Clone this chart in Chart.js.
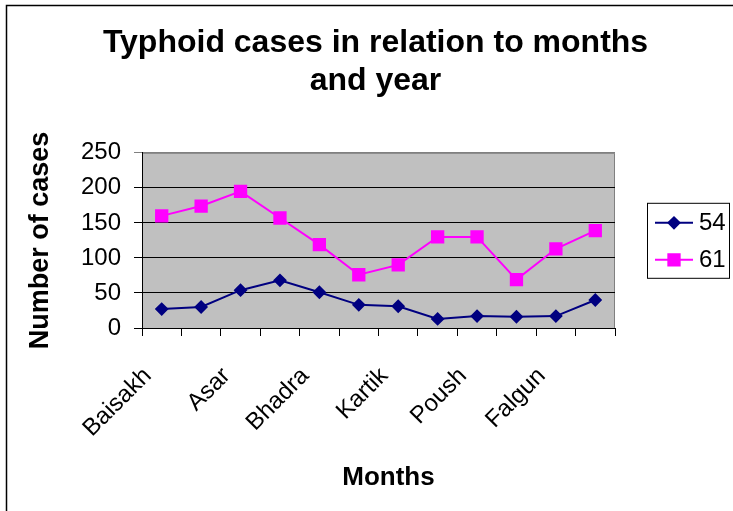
<!DOCTYPE html>
<html>
<head>
<meta charset="utf-8">
<script src="https://cdn.jsdelivr.net/npm/chart.js@4.4.1/dist/chart.umd.min.js"></script>
<style>
  html, body { margin: 0; padding: 0; background: #ffffff; }
  #wrap { width: 733px; height: 511px; position: relative; }
  canvas { display: block; }
</style>
</head>
<body>
<div id="wrap"><canvas id="c" width="733" height="511"></canvas></div>
<script>
// ---- data ----
const months = ['Baisakh', 'Jestha', 'Asar', 'Shrawan', 'Bhadra', 'Ashwin',
                'Kartik', 'Mangsir', 'Poush', 'Magh', 'Falgun', 'Chaitra'];
const series54 = [27, 30, 54, 68, 51, 33, 31, 13, 17, 16, 17, 40];
const series61 = [160, 174, 195, 157, 119, 76, 90, 130, 130, 69, 113, 139];
const seriesNames = ['54', '61'];
const yTicks = [0, 50, 100, 150, 200, 250];
const chartTitle = ['Typhoid cases in relation to months', 'and year'];
const xTitle = 'Months';
const yTitle = 'Number of cases';

const FONT = "'Liberation Sans', Arial, Helvetica, sans-serif";

const decor = {
  id: 'decor',
  beforeDraw(chart) {
    const ctx = chart.ctx;
    const a = chart.chartArea;
    ctx.save();
    // outer frame (left and top edges)
    ctx.strokeStyle = '#000000';
    ctx.lineWidth = 1.5;
    ctx.beginPath();
    ctx.moveTo(6.5, chart.height);
    ctx.lineTo(6.5, 5.5);
    ctx.lineTo(chart.width, 5.5);
    ctx.stroke();
    // plot background
    ctx.fillStyle = '#C0C0C0';
    ctx.fillRect(a.left, a.top, a.right - a.left, a.bottom - a.top);
    ctx.strokeStyle = '#808080';
    ctx.lineWidth = 1;
    ctx.beginPath();
    ctx.moveTo(a.left, a.top + 0.5);
    ctx.lineTo(a.right - 0.5, a.top + 0.5);
    ctx.lineTo(a.right - 0.5, a.bottom);
    ctx.stroke();
    ctx.restore();
  },
  afterDraw(chart) {
    const ctx = chart.ctx;
    const a = chart.chartArea;
    ctx.save();
    // x axis title
    ctx.fillStyle = '#000000';
    ctx.font = 'bold 26px ' + FONT;
    ctx.textAlign = 'center';
    ctx.textBaseline = 'middle';
    ctx.fillText(xTitle, (a.left + a.right) / 2 + 10, a.bottom + 150);
    // legend box
    const bx = a.right + 32, by = a.top + 50, bw = 82, bh = 75;
    ctx.fillStyle = '#ffffff';
    ctx.fillRect(bx, by, bw, bh);
    ctx.strokeStyle = '#000000';
    ctx.lineWidth = 1;
    ctx.strokeRect(bx + 0.5, by + 0.5, bw, bh);
    chart.data.datasets.forEach((ds, i) => {
      const y = by + 20 + i * 37;
      ctx.strokeStyle = ds.borderColor;
      ctx.lineWidth = ds.borderWidth;
      ctx.beginPath();
      ctx.moveTo(bx + 8, y);
      ctx.lineTo(bx + 46, y);
      ctx.stroke();
      Chart.helpers.drawPoint(ctx, {
        pointStyle: ds.pointStyle, radius: ds.pointRadius, borderWidth: 1
      }, bx + 27, y);
      ctx.fillStyle = ds.pointBackgroundColor;
      ctx.fill();
      ctx.fillStyle = '#000000';
      ctx.font = '24px ' + FONT;
      ctx.textAlign = 'left';
      ctx.textBaseline = 'middle';
      ctx.fillText(ds.label, bx + 52, y + 1);
    });
    ctx.restore();
  }
};

new Chart(document.getElementById('c'), {
  type: 'line',
  data: {
    labels: months,
    datasets: [
      {
        label: seriesNames[0], data: series54,
        borderColor: '#000080', backgroundColor: '#000080',
        pointBackgroundColor: '#000080', pointBorderColor: '#000080',
        pointStyle: 'rectRot', pointRadius: 5.5, pointHoverRadius: 5.5,
        borderWidth: 2, tension: 0
      },
      {
        label: seriesNames[1], data: series61,
        borderColor: '#FF00FF', backgroundColor: '#FF00FF',
        pointBackgroundColor: '#FF00FF', pointBorderColor: '#FF00FF',
        pointStyle: 'rect', pointRadius: 8, pointHoverRadius: 8,
        borderWidth: 2, tension: 0
      }
    ]
  },
  options: {
    responsive: false,
    animation: false,
    devicePixelRatio: 1,
    layout: { padding: { left: 18, right: 0, top: 0, bottom: 0 } },
    plugins: {
      legend: { display: false },
      tooltip: { enabled: false },
      title: {
        display: true,
        text: chartTitle,
        color: '#000000',
        font: { family: FONT, size: 32, weight: 'bold', lineHeight: 1.2 },
        padding: { top: 24, bottom: 52 }
      }
    },
    scales: {
      x: {
        type: 'category',
        offset: true,
        grid: { display: true, offset: true, drawOnChartArea: false, drawTicks: true,
                tickLength: 8, color: '#000000' },
        border: { display: true, color: '#000000', width: 1 },
        ticks: {
          autoSkip: false, minRotation: 45, maxRotation: 45, padding: 26, labelOffset: -14,
          color: '#000000', font: { family: FONT, size: 24 },
          callback: (v, i) => (i % 2 === 0 ? months[i] : '')
        },
        title: { display: false },
        afterFit: (s) => { s.height = 183; }
      },
      y: {
        min: 0, max: 250,
        afterBuildTicks: (s) => { s.ticks = yTicks.map(v => ({ value: v })); },
        grid: { display: true, drawOnChartArea: true, drawTicks: true, tickLength: 8,
                color: (c) => (c.tick && c.tick.value === 250 ? '#808080' : '#000000') },
        border: { display: true, color: '#000000', width: 1 },
        ticks: { color: '#000000', padding: 13, font: { family: FONT, size: 24 } },
        title: { display: true, text: yTitle, color: '#000000',
                 font: { family: FONT, size: 27, weight: 'bold' },
                 padding: { top: 6, bottom: 0 } },
        afterFit: (s) => { s.width = 124; }
      },
      r2: {
        type: 'linear', position: 'right', display: true,
        grid: { display: false }, border: { display: false },
        ticks: { display: false },
        afterFit: (s) => { s.width = 118; }
      }
    }
  },
  plugins: [decor]
});
</script>
</body>
</html>
